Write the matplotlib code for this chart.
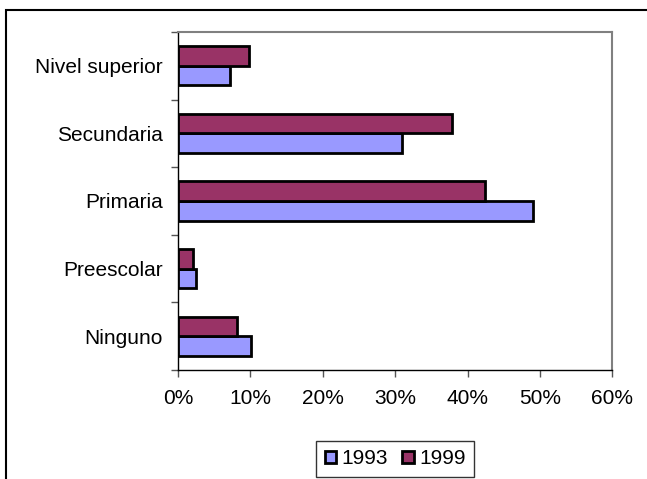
import matplotlib
matplotlib.use("Agg")
import matplotlib.pyplot as plt
from matplotlib.patches import Rectangle
from matplotlib.ticker import FixedLocator, FuncFormatter
import numpy as np

plt.rcParams['font.family'] = ['Liberation Sans', 'DejaVu Sans']

categories = ["Ninguno", "Preescolar", "Primaria", "Secundaria", "Nivel superior"]
series_names = ["1993", "1999"]
values_1993 = [10.1, 2.5, 49.0, 31.0, 7.2]
values_1999 = [8.1, 2.1, 42.4, 37.9, 9.8]
x_ticks = [0, 10, 20, 30, 40, 50, 60]

color_1993 = "#9999FF"
color_1999 = "#993366"

fig = plt.figure(figsize=(6.47, 4.79), dpi=100)
ax = fig.add_axes([178 / 647, 1 - 370 / 479, (612.3 - 178) / 647, (370 - 32) / 479])

# outer chart frame (extends past the right and bottom edges)
fig.patches.append(Rectangle((6 / 647, -0.1), 1.2, 1 - 10 / 479 + 0.1,
                             transform=fig.transFigure, fill=False,
                             edgecolor="black", linewidth=1.5, zorder=0))

y = np.arange(len(categories))
h = 0.29
b1 = ax.barh(y - h / 2, values_1993, height=h, color=color_1993,
             edgecolor="black", linewidth=2, label=series_names[0], zorder=3)
b2 = ax.barh(y + h / 2, values_1999, height=h, color=color_1999,
             edgecolor="black", linewidth=2, label=series_names[1], zorder=3)

ax.set_xlim(0, 60)
ax.set_ylim(-0.5, len(categories) - 0.5)
ax.set_xticks(x_ticks)
ax.xaxis.set_major_formatter(FuncFormatter(lambda v, p: f"{v:.0f}%"))
ax.set_yticks(y)
ax.set_yticklabels(categories)
ax.yaxis.set_minor_locator(FixedLocator(np.arange(-0.5, len(categories), 1.0)))

ax.tick_params(axis="y", which="major", length=0, pad=11, labelsize=15)
ax.tick_params(axis="y", which="minor", length=5, width=1, color="#555555")
ax.tick_params(axis="x", which="major", length=5, width=1, color="#555555",
               pad=9, labelsize=15)

for side in ("top", "right"):
    ax.spines[side].set_color("#808080")
    ax.spines[side].set_linewidth(1.5)
for side in ("left", "bottom"):
    ax.spines[side].set_color("black")
    ax.spines[side].set_linewidth(1)

leg = fig.legend(handles=[b1, b2], labels=series_names, loc="center",
                 bbox_to_anchor=(395 / 647, 1 - 459 / 479), ncol=2,
                 fontsize=15, frameon=True, fancybox=False,
                 handlelength=0.55, handleheight=0.55, handletextpad=0.25,
                 columnspacing=0.7, borderpad=0.4, borderaxespad=0)
leg.get_frame().set_edgecolor("black")
leg.get_frame().set_linewidth(1)

fig.savefig("out.png", dpi=100)
